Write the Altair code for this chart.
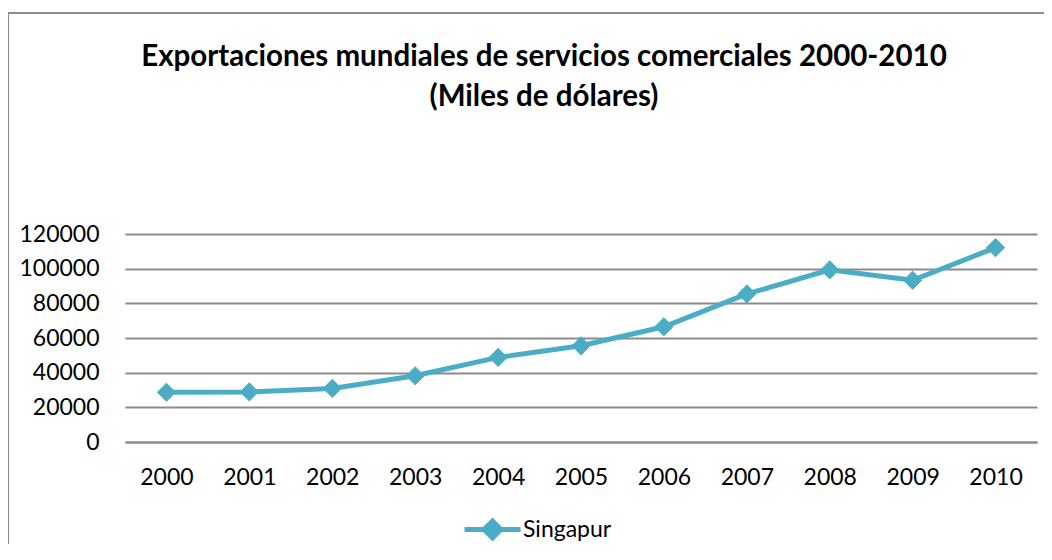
import altair as alt
import pandas as pd

years = ["2000", "2001", "2002", "2003", "2004", "2005", "2006", "2007", "2008", "2009", "2010"]
singapur = [28700, 28900, 30900, 38200, 48800, 55500, 66500, 85400, 99300, 93300, 112100]
serie = "Singapur"
y_ticks = [0, 20000, 40000, 60000, 80000, 100000, 120000]

df = pd.DataFrame({"Año": years, "Valor": singapur, "Serie": [serie] * len(years)})

COLOR = "#4BACC6"
FONT = "Lato"

legend = alt.Legend(
    title=None,
    orient="none",
    legendX=337,
    legendY=265,
    symbolType="M-1,0L1,0M0,-0.3L0.3,0L0,0.3L-0.3,0Z",
    symbolSize=3136,
    symbolStrokeWidth=5,
    symbolFillColor=COLOR,
    symbolStrokeColor=COLOR,
    labelFontSize=23,
    labelFont=FONT,
    labelColor="#000000",
    labelOffset=0,
)
sc = alt.Scale(domain=[serie], range=[COLOR])

x = alt.X(
    "Año:O",
    sort=years,
    scale=alt.Scale(type="point", padding=0.5),
    axis=alt.Axis(
        title=None,
        labelAngle=0,
        ticks=False,
        grid=False,
        domain=True,
        domainColor="#8c8c8c",
        domainWidth=2,
        labelPadding=24,
        labelFontSize=23,
        labelFont=FONT,
        labelColor="#000000",
    ),
)
y = alt.Y(
    "Valor:Q",
    scale=alt.Scale(domain=[0, 120000], nice=False),
    axis=alt.Axis(
        title=None,
        values=y_ticks,
        format="d",
        domain=False,
        ticks=False,
        grid=True,
        gridColor="#8c8c8c",
        gridWidth=1.8,
        labelPadding=26,
        labelFontSize=23,
        labelFont=FONT,
        labelColor="#000000",
    ),
)

base = alt.Chart(df)
line = base.mark_line(strokeWidth=5).encode(
    x=x, y=y, stroke=alt.Stroke("Serie:N", scale=sc, legend=legend)
)
points = base.mark_point(shape="diamond", filled=True, size=330, opacity=1, strokeWidth=1).encode(
    x=x,
    y=y,
    fill=alt.Fill("Serie:N", scale=sc, legend=legend),
    stroke=alt.Stroke("Serie:N", scale=sc, legend=legend),
)

frame = alt.Chart(pd.DataFrame({"a": [0]})).mark_rect(
    fill=None, stroke="#8c8c8c", strokeWidth=2
).encode(
    x=alt.value(-117), x2=alt.value(1000), y=alt.value(-221), y2=alt.value(400)
)

chart = alt.layer(frame, line, points).properties(
    width=912,
    height=208,
    autosize=alt.AutoSizeParams(type="none"),
    padding={"left": 117, "top": 226, "right": 7, "bottom": 102},
    background="#ffffff",
    title=alt.Title(
        ["Exportaciones mundiales de servicios comerciales 2000-2010", "(Miles de dólares)"],
        anchor="middle",
        dx=-37,
        offset=-100,
        fontSize=29.5,
        font=FONT,
        fontWeight="bold",
        color="#000000",
        lineHeight=40,
    ),
).configure_view(stroke=None)

chart.save("out.html", embed_options={"renderer": "svg", "actions": False})
